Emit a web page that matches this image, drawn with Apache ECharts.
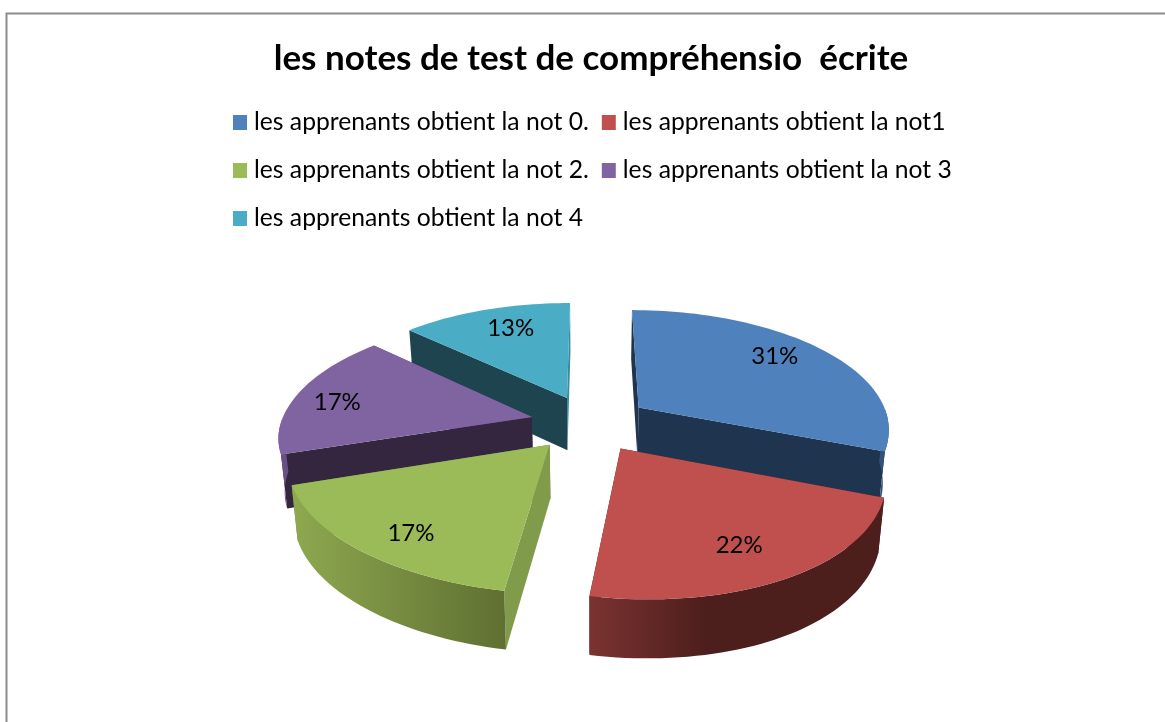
<!DOCTYPE html>
<html>
<head>
<meta charset="utf-8">
<title>les notes de test</title>
<script type="text/javascript" src="https://cdn.jsdelivr.net/npm/echarts@6/dist/echarts.min.js"></script>
<style>
    html, body { margin: 0; padding: 0; background: #fff; }
    #chart { width: 1165px; height: 722px; }
</style>
</head>
<body>
<div id="chart"></div>
<script>
    var categories = [
        'les apprenants obtient la not 0.',
        'les apprenants obtient la not1',
        'les apprenants obtient la not 2.',
        'les apprenants obtient la not 3',
        'les apprenants obtient la not 4'
    ];
    var values = [31, 22, 17, 17, 13];

    // couleurs : dessus, parois radiales, paroi extérieure (gauche -> droite)
    var topColors = ['#4f81bd', '#c0504d', '#9bbb59', '#8064a2', '#4bacc6'];
    var radialStart = ['#1f344f', '#4c1e1c', '#809c4a', '#352640', '#1e4450'];
    var radialEnd = ['#1f344f', '#4c1e1c', '#6c8640', '#5f4a7c', '#3a8ba0'];
    var outerLeft = ['#35557e', '#7a3331', '#8ea950', '#6a5088', '#3d8ea3'];
    var outerRight = ['#2d4a70', '#4c1e1c', '#5f6f31', '#6a5088', '#3d8ea3'];
    // ordre de peinture : du fond vers l'avant
    var paintOrder = [3, 5, 4, 2, 1];
    var labelShift = [[5, -9], [8, 11], [-11, 17], [-30, 3], [3, -6]];

    var cx = 590, cy = 423;
    var R = 251, explode = 60, tilt = 0.4685, persp = 0.16;

    // projection du plan du camembert vers l'écran
    function project(X, Z) {
        var s = 1 / (1 + persp * Z / R);
        var skew = Z < 0 ? 0.000244 * Z * Z : 0;
        return { x: cx + X * s + skew, y: cy - Z * tilt * s, s: s };
    }
    function topPoint(X, Z) {
        var p = project(X, Z);
        return [p.x, p.y];
    }
    function bottomPoint(X, Z) {
        var p = project(X, Z);
        return [cx + (p.x - cx) * 0.98, p.y + 53 * Math.sqrt(p.s)];
    }

    var total = 0;
    for (var i = 0; i < values.length; i++) {
        total += values[i];
    }

    function renderSlice(params, api) {
        var idx = params.seriesIndex;
        var before = 0;
        for (var k = 0; k < idx; k++) {
            before += values[k];
        }
        var a0 = before / total * 2 * Math.PI;
        var a1 = (before + api.value(0)) / total * 2 * Math.PI;
        var mid = (a0 + a1) / 2;
        var ox = explode * Math.sin(mid);
        var oz = explode * Math.cos(mid);

        var steps = Math.ceil((a1 - a0) / 0.03);
        var arcTop = [], arcBottom = [], wallTop = [], wallBottom = [];
        for (var n = 0; n <= steps; n++) {
            var a = a0 + (a1 - a0) * n / steps;
            var X = ox + R * Math.sin(a);
            var Z = oz + R * Math.cos(a);
            arcTop.push(topPoint(X, Z));
            arcBottom.push(bottomPoint(X, Z));
            // la paroi extérieure n'est visible que sur l'avant
            if (Math.cos(a) < 0) {
                wallTop.push(arcTop[n]);
                wallBottom.push(arcBottom[n]);
            }
        }
        var apexTop = topPoint(ox, oz);
        var apexBottom = bottomPoint(ox, oz);

        function poly(points, fill) {
            return { type: 'polygon', shape: { points: points }, style: { fill: fill } };
        }
        var lab = project(ox + 0.7 * R * Math.sin(mid), oz + 0.7 * R * Math.cos(mid));

        var startWall = poly([apexTop, arcTop[0], arcBottom[0], apexBottom], radialStart[idx]);
        var endWall = poly([apexTop, arcTop[steps], arcBottom[steps], apexBottom], radialEnd[idx]);
        var children = Math.sin(a0) < 0 ? [endWall, startWall] : [startWall, endWall];
        if (wallTop.length > 1) {
            children.push(poly(wallTop.concat(wallBottom.reverse()), new echarts.graphic.LinearGradient(0, 0, 1, 0, [
                { offset: 0, color: outerLeft[idx] },
                { offset: idx === 1 ? 0.4 : 1, color: outerRight[idx] },
                { offset: 1, color: outerRight[idx] }
            ])));
        }
        children.push(poly([apexTop].concat(arcTop), topColors[idx]));
        children.push({
            type: 'text',
            x: lab.x + labelShift[idx][0],
            y: lab.y + labelShift[idx][1],
            style: {
                text: Math.round(api.value(0) / total * 100) + '%',
                fontFamily: 'Lato',
                fontSize: 24,
                fill: '#000',
                align: 'center',
                verticalAlign: 'middle'
            }
        });
        return { type: 'group', children: children };
    }

    var series = [];
    for (var j = 0; j < categories.length; j++) {
        series.push({
            name: categories[j],
            type: 'custom',
            coordinateSystem: 'none',
            z: paintOrder[j] + 2,
            silent: true,
            data: [[values[j]]],
            renderItem: renderSlice
        });
    }

    var myChart = echarts.init(document.getElementById('chart'));
    var option = {
        animation: false,
        backgroundColor: '#fff',
        color: topColors,
        title: {
            text: 'les notes de test de compréhensio  écrite',
            left: 586,
            textAlign: 'center',
            top: 36,
            textStyle: {
                fontFamily: 'Lato',
                fontWeight: 'bold',
                fontSize: 35,
                color: '#000'
            }
        },
        legend: {
            left: 233,
            top: 105,
            width: 740,
            padding: 0,
            orient: 'horizontal',
            icon: 'rect',
            itemWidth: 14,
            itemHeight: 15,
            itemGap: 13,
            selectedMode: false,
            data: categories,
            textStyle: {
                fontFamily: 'Lato',
                fontSize: 24.7,
                lineHeight: 35,
                padding: [0, 0, 0, 2],
                color: '#000'
            }
        },
        graphic: [{
            type: 'polyline',
            silent: true,
            shape: { points: [[6.5, 722], [6.5, 13.5], [1165, 13.5]] },
            style: { stroke: '#8c8c8c', lineWidth: 2, fill: null }
        }],
        series: series
    };
    myChart.setOption(option);
</script>
</body>
</html>
